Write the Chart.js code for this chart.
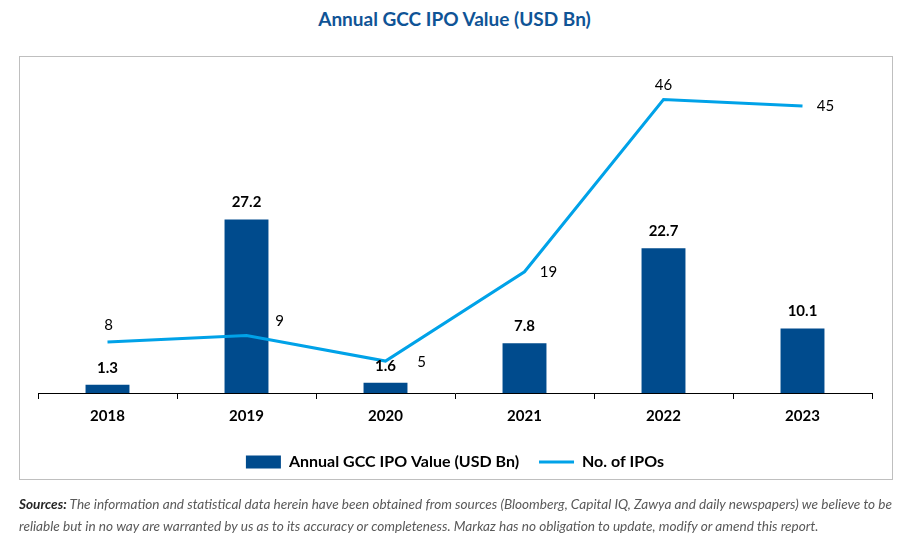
<!DOCTYPE html>
<html>
<head>
<meta charset="utf-8">
<script src="https://cdn.jsdelivr.net/npm/chart.js@4.4.1/dist/chart.umd.min.js"></script>
<style>
  html, body { margin: 0; padding: 0; background: #fff; }
  #page { position: relative; width: 909px; height: 550px; overflow: hidden; }
  #title { position: absolute; left: 0; top: 7px; width: 909px; text-align: center;
           font-family: Lato, "Open Sans", sans-serif; font-weight: bold; font-size: 19px; color: #0F5496; }
  #box { position: absolute; left: 19px; top: 56px; width: 872px; height: 422px; border: 1px solid #BFBFBF; }
  #chartWrap { position: absolute; left: 0; top: 0; width: 909px; height: 550px; }
  #sources { position: absolute; left: 19px; top: 494px; width: 890px; font-family: Lato, "Open Sans", sans-serif;
             font-style: italic; font-size: 13.6px; line-height: 21.5px; color: #595959; white-space: nowrap; }
  #sources b { color: #262626; }
</style>
</head>
<body>
<div id="page">
  <div id="title">Annual GCC IPO Value (USD Bn)</div>
  <div id="box"></div>
  <div id="chartWrap"><canvas id="c" width="909" height="550"></canvas></div>
  <div id="sources"><b>Sources:</b> The information and statistical data herein have been obtained from sources (Bloomberg, Capital IQ, Zawya and daily newspapers) we believe to be<br>reliable but in no way are warranted by us as to its accuracy or completeness. Markaz has no obligation to update, modify or amend this report.</div>
</div>
<script>
const years = ['2018', '2019', '2020', '2021', '2022', '2023'];
const ipoValue = [1.3, 27.2, 1.6, 7.8, 22.7, 10.1];
const ipoCount = [8, 9, 5, 19, 46, 45];
const seriesNames = ['Annual GCC IPO Value (USD Bn)', 'No. of IPOs'];

const BAR_COLOR = '#004B8D';
const LINE_COLOR = '#00A2E8';
const FONT = 'Lato, "Open Sans", sans-serif';

// label placement for line points: [dx, dy]
const lineLabelOffsets = [[1, -17], [33, -14], [36, 1], [24, 0], [0, -14], [23, 0]];

const labelPlugin = {
  id: 'valueLabels',
  afterDatasetsDraw(chart) {
    const ctx = chart.ctx;
    ctx.save();
    ctx.textAlign = 'center';
    ctx.textBaseline = 'middle';
    ctx.fillStyle = '#000';
    const barMeta = chart.getDatasetMeta(0);
    ctx.font = 'bold 15px ' + FONT;
    barMeta.data.forEach((el, i) => {
      ctx.fillText(chart.data.datasets[0].data[i].toFixed(1), el.x, el.y - 17);
    });
    const lineMeta = chart.getDatasetMeta(1);
    ctx.font = '15px ' + FONT;
    lineMeta.data.forEach((el, i) => {
      const o = lineLabelOffsets[i];
      ctx.fillText(String(chart.data.datasets[1].data[i]), el.x + o[0], el.y + o[1]);
    });
    ctx.restore();
  }
};

new Chart(document.getElementById('c'), {
  data: {
    labels: years,
    datasets: [
      {
        type: 'bar',
        label: seriesNames[0],
        data: ipoValue,
        backgroundColor: BAR_COLOR,
        borderWidth: 0,
        barPercentage: 0.316,
        categoryPercentage: 1,
        yAxisID: 'y',
        order: 2
      },
      {
        type: 'line',
        label: seriesNames[1],
        data: ipoCount,
        borderColor: LINE_COLOR,
        backgroundColor: LINE_COLOR,
        borderWidth: 3,
        pointRadius: 0,
        pointHoverRadius: 0,
        tension: 0,
        yAxisID: 'y1',
        order: 1
      }
    ]
  },
  options: {
    responsive: false,
    animation: false,
    layout: { padding: { left: 38, right: 37, top: 74, bottom: 70 } },
    plugins: {
      title: { display: false },
      tooltip: { enabled: false },
      legend: {
        position: 'bottom',
        labels: {
          usePointStyle: true,
          pointStyleWidth: 35,
          boxHeight: 13,
          padding: 20,
          color: '#000',
          font: { family: FONT, size: 16, weight: 'bold' },
          generateLabels(chart) {
            const items = Chart.defaults.plugins.legend.labels.generateLabels(chart);
            items.sort((a, b) => a.datasetIndex - b.datasetIndex);
            items.forEach(it => {
              const ds = chart.data.datasets[it.datasetIndex];
              if (ds.type === 'bar') {
                it.pointStyle = 'rect';
                it.fillStyle = BAR_COLOR;
                it.strokeStyle = BAR_COLOR;
                it.lineWidth = 0;
              } else {
                it.pointStyle = 'line';
                it.strokeStyle = LINE_COLOR;
                it.fillStyle = LINE_COLOR;
                it.lineWidth = 3;
              }
            });
            return items;
          }
        }
      }
    },
    scales: {
      x: {
        offset: true,
        grid: { display: true, drawOnChartArea: false, drawTicks: true, tickLength: 6, color: '#000', offset: true },
        border: { display: true, color: '#000', width: 1 },
        ticks: { color: '#000', font: { family: FONT, size: 15, weight: 'bold' }, padding: 8 },
        afterFit(scale) { scale.height = 41; }
      },
      y: { display: false, min: 0, max: 50 },
      y1: { display: false, min: 0, max: 50, position: 'right' }
    }
  },
  plugins: [labelPlugin]
});
</script>
</body>
</html>
